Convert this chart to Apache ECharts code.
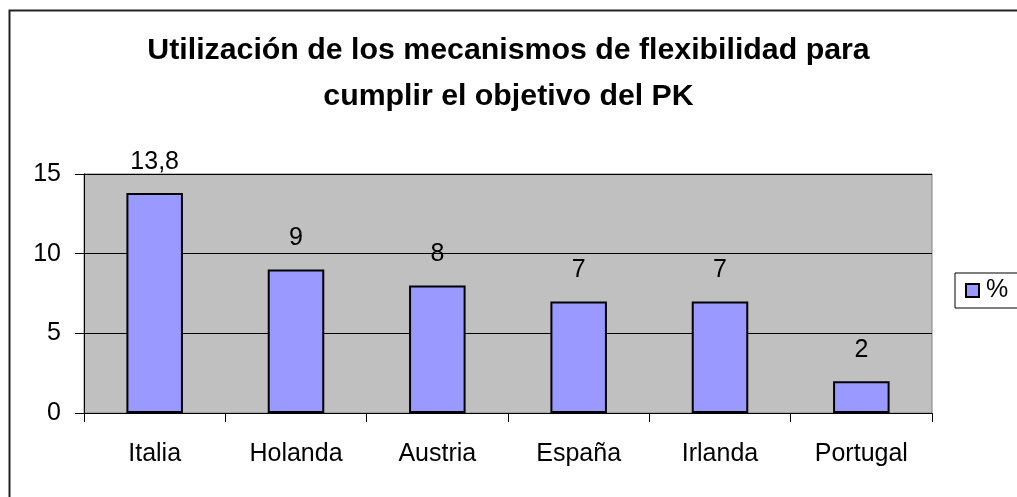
<!DOCTYPE html>
<html>
<head>
<meta charset="utf-8">
<script src="https://cdn.jsdelivr.net/npm/echarts@6/dist/echarts.min.js"></script>
<style>
  html, body { margin: 0; padding: 0; background: #fff; }
  #chart { width: 1017px; height: 497px; }
</style>
</head>
<body>
<div id="chart"></div>
<script>
// datos del gráfico
const paises = ['Italia', 'Holanda', 'Austria', 'España', 'Irlanda', 'Portugal']
const porcentajes = [13.8, 9, 8, 7, 7, 2]
const serieNombre = '%'
const titulo = 'Utilización de los mecanismos de flexibilidad para\ncumplir el objetivo del PK'

const fuente = 'Liberation Sans, Arial, sans-serif'
const tam = 25

const chart = echarts.init(document.getElementById('chart'))

chart.setOption({
  animation: false,
  textStyle: { fontFamily: fuente },
  title: {
    text: titulo,
    left: 'center',
    top: 23,
    textStyle: {
      fontFamily: fuente,
      fontSize: 30.3,
      fontWeight: 'bold',
      color: '#000',
      lineHeight: 46,
      align: 'center'
    }
  },
  // marco exterior
  graphic: [{
    type: 'rect',
    left: 7,
    top: 8,
    shape: { width: 1100, height: 600 },
    style: { fill: 'none', stroke: '#222', lineWidth: 2 },
    silent: true
  }],
  legend: {
    data: [serieNombre],
    left: 955,
    top: 273,
    orient: 'vertical',
    padding: [5, 14, 5, 10],
    itemWidth: 13,
    itemHeight: 13,
    itemGap: 0,
    icon: 'rect',
    borderColor: '#000',
    borderWidth: 1,
    textStyle: { fontFamily: fuente, fontSize: tam, color: '#000', padding: [0, 0, 0, 2] }
  },
  grid: {
    left: 84,
    right: 85,
    top: 174,
    bottom: 84,
    show: true,
    backgroundColor: '#C0C0C0',
    borderColor: '#808080',
    borderWidth: 1
  },
  xAxis: {
    type: 'category',
    data: paises,
    boundaryGap: true,
    axisLine: { lineStyle: { color: '#000', width: 1 } },
    axisTick: { show: true, alignWithLabel: false, length: 9, lineStyle: { color: '#000' } },
    axisLabel: { margin: 29, fontSize: tam, color: '#000', fontFamily: fuente },
    splitLine: { show: false }
  },
  yAxis: {
    type: 'value',
    min: 0,
    max: 15,
    interval: 5,
    axisLine: { show: true, lineStyle: { color: '#000', width: 1 } },
    axisTick: { show: true, length: 9, lineStyle: { color: '#000' } },
    axisLabel: { margin: 23, fontSize: tam, color: '#000', fontFamily: fuente },
    splitLine: { show: true, lineStyle: { color: '#000', width: 1 } }
  },
  series: [{
    name: serieNombre,
    type: 'bar',
    data: porcentajes,
    barWidth: '40%',
    itemStyle: { color: '#9999FF', borderColor: '#000', borderWidth: 2 },
    label: {
      show: true,
      position: 'top',
      distance: 19,
      fontSize: tam,
      color: '#000',
      fontFamily: fuente,
      formatter: (p) => String(p.value).replace('.', ',')
    }
  }]
})
</script>
</body>
</html>
